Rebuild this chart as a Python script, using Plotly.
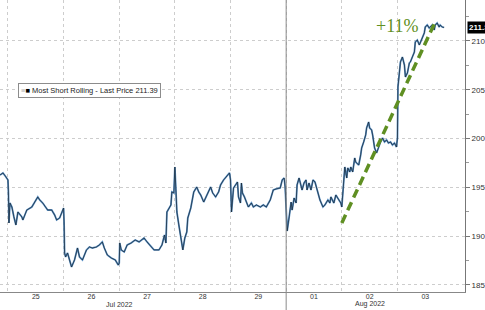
import plotly.graph_objects as go

# ---- data (x = trading-day position since Jul 25 open, y = price) ----
t_days = [-0.143, -0.089, -0.036, 0.0, 0.009, 0.018, 0.036, 0.071, 0.107, 0.143, 0.179, 0.25, 0.268, 0.339, 0.429,
          0.482, 0.536, 0.571, 0.625, 0.714, 0.786, 0.839, 0.875, 0.929, 0.982, 1.0,
          1.009, 1.018, 1.036, 1.071, 1.107, 1.143, 1.196, 1.25, 1.286, 1.339, 1.411, 1.464, 1.518, 1.589, 1.643,
          1.696, 1.732, 1.786, 1.857, 1.929, 1.982, 2.0,
          2.009, 2.036, 2.089, 2.143, 2.214, 2.286, 2.357, 2.446, 2.5, 2.571, 2.625, 2.714, 2.768, 2.813, 2.839,
          2.857, 2.893, 2.929, 2.946, 2.982, 3.0,
          3.018, 3.036, 3.071, 3.107, 3.143, 3.179, 3.214, 3.232, 3.286, 3.339, 3.393, 3.429, 3.464, 3.518, 3.571,
          3.643, 3.679, 3.732, 3.786, 3.821, 3.875, 3.929, 3.982, 4.0,
          4.018, 4.054, 4.089, 4.125, 4.143, 4.179, 4.196, 4.214, 4.25, 4.286, 4.321, 4.375, 4.411, 4.464, 4.536,
          4.589, 4.643, 4.714, 4.768, 4.821, 4.893, 4.929, 4.964, 4.982, 5.0,
          5.018, 5.054, 5.089, 5.107, 5.143, 5.179, 5.196, 5.232, 5.268, 5.286, 5.321, 5.357, 5.375, 5.411, 5.446,
          5.482, 5.518, 5.554, 5.607, 5.661, 5.696, 5.75, 5.786, 5.804, 5.857, 5.893, 5.946, 5.982, 6.0,
          6.018, 6.036, 6.054, 6.089, 6.107, 6.143, 6.161, 6.196, 6.232, 6.25, 6.304, 6.339, 6.357, 6.393, 6.429,
          6.446, 6.482, 6.5, 6.536, 6.554, 6.589, 6.625, 6.661, 6.696, 6.732, 6.768, 6.804, 6.839, 6.875, 6.911,
          6.946, 6.982, 7.0,
          7.009, 7.036, 7.054, 7.089, 7.125, 7.143, 7.179, 7.214, 7.232, 7.268, 7.304, 7.321, 7.357, 7.393, 7.411,
          7.446, 7.482, 7.5, 7.536, 7.571, 7.589, 7.625, 7.661, 7.679, 7.714, 7.75, 7.768, 7.804, 7.839]

price = [196.27, 196.48, 196.07, 195.76, 194.43, 191.35, 193.40, 192.99, 191.97, 191.15, 192.48, 191.97, 191.66, 192.68, 192.99,
         193.50, 194.02, 193.71, 193.40, 192.68, 192.68, 192.17, 191.66, 191.86, 192.68, 192.89,
         191.35, 188.28, 187.87, 188.28, 187.56, 186.84, 187.56, 188.79, 187.87, 187.56, 188.59, 188.89, 188.79, 188.89, 189.10,
         189.41, 188.79, 188.07, 187.77, 187.56, 187.05, 187.25,
         189.30, 188.59, 188.38, 189.10, 189.30, 189.61, 189.41, 189.82, 189.41, 188.89, 188.59, 188.59, 189.10, 190.12, 189.30,
         192.48, 192.89, 193.20, 194.53, 194.43, 197.09,
         194.94, 192.48, 191.15, 189.82, 188.59, 189.82, 190.43, 191.86, 192.89, 194.53, 195.04, 194.53, 194.22, 193.50, 194.22,
         195.04, 194.43, 194.02, 194.53, 195.25, 195.76, 196.07, 196.48, 195.76,
         192.48, 194.94, 195.25, 195.55, 194.02, 193.40, 195.45, 194.43, 194.02, 193.40, 192.99, 193.40, 192.99, 193.20, 192.99,
         193.20, 192.99, 193.71, 194.73, 194.84, 194.94, 195.76, 195.96, 195.04, 192.68,
         190.53, 191.97, 193.50, 192.68, 193.91, 193.40, 195.25, 195.96, 195.25, 194.73, 195.45, 195.76, 194.73, 195.45, 194.73,
         195.76, 195.55, 194.73, 193.71, 192.99, 193.20, 193.71, 193.40, 194.02, 193.40, 194.22, 193.71, 193.40, 192.99,
         194.53, 196.27, 197.09, 195.96, 196.99, 196.58, 197.09, 196.58, 198.01, 197.60, 197.29, 198.32, 199.04, 199.65, 200.37,
         201.09, 201.70, 201.09, 200.88, 200.37, 199.04, 198.52, 199.14, 199.65, 200.06, 199.65, 199.86, 199.55, 199.65, 199.34,
         199.55, 199.14, 200.06,
         205.29, 206.82, 207.85, 208.36, 207.54, 206.31, 206.72, 207.75, 207.85, 208.36, 208.87, 209.90, 210.10, 209.59, 209.80,
         210.31, 210.82, 211.43, 211.64, 211.33, 211.43, 211.64, 211.13, 211.64, 211.84, 211.43, 211.64, 211.43, 211.39]

day_labels = ["25", "26", "27", "28", "29", "01", "02", "03"]
day_boundaries = [0, 1, 2, 3, 4, 5, 6, 7]
month_labels = ["Jul 2022", "Aug 2022"]
month_label_pos = [2.0, 6.5]
month_boundary = 5
series_name = "Most Short Rolling - Last Price"
last_price = price[-1]

trend_x = [6.0, 7.661]
trend_y = [191.35, 211.74]
trend_label = "+11%"
trend_label_pos = (7.0, 211.55)

GREEN = "#5f8f22"
GRID = "#cdcdcd"

fig = go.Figure()
fig.add_trace(go.Scatter(x=t_days, y=price, mode="lines",
                         line=dict(color="#5a90c4", width=1.8), hoverinfo="skip", showlegend=False))
fig.add_trace(go.Scatter(x=t_days, y=price, mode="lines",
                         line=dict(color="#16222e", width=0.7), name=series_name, showlegend=False))
fig.add_trace(go.Scatter(x=trend_x, y=trend_y, mode="lines",
                         line=dict(color=GREEN, width=3.5, dash="9px,5px"), showlegend=False, hoverinfo="skip"))

fig.update_layout(
    width=485, height=310,
    margin=dict(l=0, r=17, t=0, b=18),
    paper_bgcolor="white", plot_bgcolor="white",
    font=dict(family="Liberation Sans, Arial, sans-serif", size=8, color="#333333"),
    xaxis=dict(range=[-0.1429, 8.214], tickmode="array",
               tickvals=[i + 0.5 for i in range(len(day_labels))], ticktext=day_labels,
               showgrid=False, zeroline=False, ticks="", ticklen=0, ticklabelstandoff=-2,
               showline=True, linecolor="#888888", linewidth=1,
               minor=dict(tickmode="array", tickvals=day_boundaries, showgrid=True, gridcolor=GRID,
                          griddash="dot", gridwidth=1, ticks=""),
               tickfont=dict(size=7, color="#333333")),
    yaxis=dict(side="right", range=[184.28, 214.2], tickmode="linear", tick0=185, dtick=5,
               showgrid=True, gridcolor=GRID, griddash="dot", gridwidth=1, zeroline=False,
               showline=True, linecolor="#777777", linewidth=1,
               ticks="outside", ticklen=4, tickcolor="#777777",
               minor=dict(tick0=185, dtick=2.5, ticks="outside", ticklen=3, tickcolor="#999999", showgrid=False),
               tickfont=dict(size=8, color="#333333")),
)

# month separator
fig.add_shape(type="line", xref="x", yref="paper", x0=month_boundary, x1=month_boundary, y0=-0.075, y1=1,
              line=dict(color="#8a8a8a", width=1))

for lab, pos in zip(month_labels, month_label_pos):
    fig.add_annotation(x=pos, y=-0.0616, xref="x", yref="paper", text=lab, showarrow=False,
                       yanchor="bottom", yshift=1, font=dict(size=7, color="#333333"), borderpad=0)

fig.add_annotation(x=trend_label_pos[0], y=trend_label_pos[1], xref="x", yref="y", text=trend_label,
                   showarrow=False, font=dict(family="Liberation Serif, Times New Roman, serif", size=18, color=GREEN))

# legend box
fig.add_annotation(x=0.038, y=0.69, xref="paper", yref="paper", xanchor="left", yanchor="middle",
                   text='<span style="color:#b0b0b0">&#8801;</span><span style="color:#000">&#9632;</span> '
                        + series_name + " " + f"{last_price:.2f}",
                   showarrow=False, bgcolor="white", bordercolor="#8c8c8c", borderwidth=1, borderpad=2,
                   font=dict(size=7.5, color="#222222"))

# last-price tag
fig.add_annotation(x=1, y=last_price, xref="paper", yref="y", xanchor="left", yanchor="middle", xshift=2,
                   text=f"<b>{last_price:.2f}</b>", showarrow=False, bgcolor="black",
                   font=dict(size=8, color="white"), borderpad=1)

fig.write_html("out.html")
